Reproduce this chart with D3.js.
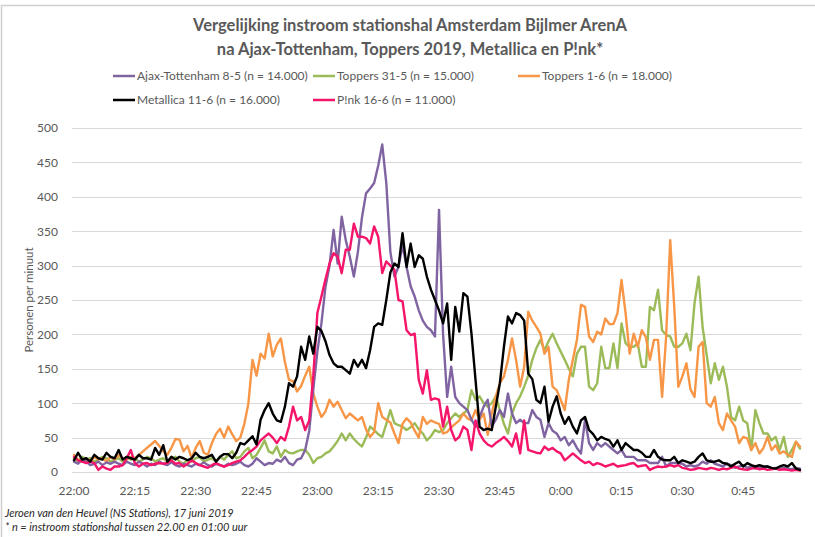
<!DOCTYPE html>
<html><head><meta charset="utf-8">
<script src="https://cdn.jsdelivr.net/npm/d3@7"></script>
<style>
html,body{margin:0;padding:0;background:#fff;}
svg{display:block;font-family:Lato,"Open Sans",sans-serif;}
</style></head>
<body><svg id="chart" width="815" height="537"></svg>
<script>
const titleLines = ["Vergelijking instroom stationshal Amsterdam Bijlmer ArenA", "na Ajax-Tottenham, Toppers 2019, Metallica en P!nk*"];
const seriesNames = ["Ajax-Tottenham 8-5 (n = 14.000)", "Toppers 31-5 (n = 15.000)", "Toppers 1-6 (n = 18.000)", "Metallica 11-6 (n = 16.000)", "P!nk 16-6 (n = 11.000)"];
const seriesColors = ["#8064A2", "#9BBB59", "#F79646", "#000000", "#F5156A"];
const xTickLabels = ["22:00","22:15","22:30","22:45","23:00","23:15","23:30","23:45","0:00","0:15","0:30","0:45"];
const yTicks = [0,50,100,150,200,250,300,350,400,450,500];
const footer = ["Jeroen van den Heuvel (NS Stations), 17 juni 2019", "* n = instroom stationshal tussen 22.00 en 01:00 uur"];

const ajax = [15,12,18,15,10,12,15,10,14,12, 15,12,10,15,12,10,15,12,8,12, 10,15,12,10,14,10,8,12,10,8, 12,10,14,10,8,12,10,8,12,10,
  12,15,10,8,12,20,15,10,13,12, 18,15,22,13,10,18,20,32,60,120, 175,216,269,300,352,303,371,337,313,284, 320,370,405,412,420,445,476,420,320,284,
  298,330,298,270,255,235,220,211,206,197, 381,200,109,153,109,100,95,90,76,66, 80,95,105,66,76,90,80,114,85,71, 76,71,71,90,80,76,51,71,60,56,
  46,51,39,46,35,27,76,42,32,42, 37,42,37,32,27,32,22,22,22,17, 17,17,13,13,13,22,8,13,13,13, 12,8,10,8,10,15,12,17,12,10,
  8,12,10,6,8,10,6,8,5,7, 6,8,5,6,4,6,5,4,6,5];
const toppers315 = [20,15,22,18,20,15,18,22,20,15, 18,20,15,22,18,20,15,18,22,20, 15,18,20,15,18,22,15,12,18,15, 20,22,15,18,20,15,22,18,25,30,
  20,22,30,35,20,25,35,46,30,27, 37,22,32,28,27,30,32,32,25,13, 20,22,27,30,37,45,56,46,56,48, 42,37,50,66,61,55,51,70,90,71,
  68,66,61,65,71,62,56,46,52,61, 58,61,71,78,85,80,85,90,119,105, 110,100,95,100,110,90,70,56,85,100, 110,124,140,163,180,192,177,190,201,187,
  175,163,150,139,172,182,182,124,119,129, 182,151,151,187,151,216,187,182,182,187, 153,153,240,235,265,206,199,197,182,182, 187,201,177,245,284,210,170,129,158,134,
  153,124,80,75,95,75,71,32,90,71, 56,56,46,51,32,51,22,32,44,34];
const toppers16 = [25,18,15,20,15,22,18,20,15,22, 18,25,20,18,22,20,25,30,35,40, 45,38,30,25,35,48,47,30,38,20, 35,45,28,25,42,55,63,50,66,55,
  45,50,70,100,163,140,172,165,201,168, 185,194,160,134,132,117,125,140,153,114, 95,80,88,105,95,102,90,78,85,80, 75,80,62,51,58,100,80,76,72,56,
  42,70,78,72,60,50,80,70,75,72, 70,56,58,65,70,75,85,78,75,90, 76,85,54,85,110,129,139,163,194,163, 124,153,233,220,211,201,172,182,124,119,
  105,90,134,163,192,243,240,197,189,204, 200,223,215,215,231,279,231,172,201,182, 206,196,163,192,192,109,197,337,240,124, 139,158,120,109,182,189,100,95,109,71,
  61,85,75,66,42,51,49,32,42,27, 35,51,32,39,27,30,25,22,44,37];
const metallica = [17,28,18,20,15,25,20,18,28,22, 20,32,18,22,20,18,25,20,20,18, 35,25,39,15,22,18,22,20,17,20, 28,22,20,22,25,15,22,26,26,20,
  28,42,40,46,52,40,76,90,100,85, 75,73,95,129,124,139,182,163,197,172, 211,205,190,170,158,153,153,148,143,163, 153,163,151,177,211,216,214,250,290,303,
  298,347,298,332,298,315,310,284,265,250, 235,216,245,163,240,204,260,255,201,134, 66,61,63,61,95,129,182,226,216,231, 228,220,143,135,105,100,124,73,95,110,
  85,70,80,66,56,75,80,61,55,46, 51,48,46,37,46,32,42,37,32,32, 28,22,22,32,22,18,17,17,22,13, 17,15,13,15,22,27,17,15,15,17,
  13,12,8,12,15,8,13,10,8,10, 8,8,6,5,8,10,8,13,5,3];
const pink = [22,17,15,13,15,13,3,8,5,3, 8,8,10,20,32,13,8,12,13,10, 12,13,12,13,17,12,13,8,12,17, 13,10,8,6,10,13,10,8,10,13,
  15,17,22,28,32,37,46,51,56,50, 42,51,46,66,95,75,80,61,75,140, 231,255,280,303,318,313,289,323,323,361, 342,342,340,332,357,342,289,306,300,294,
  250,248,206,199,201,134,114,148,105,107, 105,66,95,61,46,51,66,61,32,75, 56,46,40,37,42,46,51,45,37,56, 27,75,32,30,28,27,37,32,35,30,
  27,17,22,27,22,17,13,15,10,13, 11,8,10,12,8,9,10,12,13,8, 9,10,3,6,8,7,8,10,8,10, 6,5,3,4,6,5,4,6,5,3,
  5,4,6,8,5,4,3,5,6,4, 5,3,4,5,3,4,3,2,3,2];

const allSeries = [ajax, toppers315, toppers16, metallica, pink];
const minutes = d3.range(ajax.length);

const svg = d3.select("#chart");
const W = 815, H = 537;
const txt = "#595959";
const plot = {left: 72, right: 802, top: 128, bottom: 472};

svg.append("rect").attr("x",0).attr("y",0).attr("width",W).attr("height",H).attr("fill","#fff");
// chart border (top & left visible)
svg.append("rect").attr("x",1.5).attr("y",5.5).attr("width",W+10).attr("height",H+10)
  .attr("fill","none").attr("stroke","#d0d0d0").attr("stroke-width",1.5);

const x = d3.scaleBand().domain(minutes).range([plot.left, plot.right]);
const xc = i => x(i) + x.bandwidth()/2;
const y = d3.scaleLinear().domain([0,500]).range([plot.bottom, plot.top]);

// gridlines
const grid = svg.append("g").attr("class","grid");
grid.selectAll("line").data(yTicks).join("line")
  .attr("x1",plot.left).attr("x2",plot.right)
  .attr("y1",d=>Math.round(y(d))+0.5).attr("y2",d=>Math.round(y(d))+0.5)
  .attr("stroke","#d9d9d9").attr("stroke-width",1);

// y axis labels
const yAxis = d3.axisLeft(y).tickValues(yTicks).tickSize(0).tickPadding(14);
const gy = svg.append("g").attr("transform",`translate(${plot.left},0)`).call(yAxis);
gy.select(".domain").remove();
gy.selectAll("text").attr("fill",txt).style("font-size","12px").style("font-family","Lato");

// x axis labels
const xAxis = d3.axisBottom(x)
  .tickValues(xTickLabels.map((_,k)=>k*15))
  .tickFormat((d)=>xTickLabels[d/15]).tickSize(0).tickPadding(14);
const gx = svg.append("g").attr("transform",`translate(0,${plot.bottom})`).call(xAxis);
gx.select(".domain").remove();
gx.selectAll("text").attr("fill",txt).style("font-size","12px").style("font-family","Lato");

// lines
const line = d3.line().x((d,i)=>xc(i)).y(d=>y(d)).curve(d3.curveLinear);
const drawOrder = [1,2,0,4,3];
drawOrder.forEach(k=>{
  svg.append("path").datum(allSeries[k]).attr("d",line)
    .attr("fill","none").attr("stroke",seriesColors[k]).attr("stroke-width",2.4)
    .attr("stroke-linejoin","round").attr("stroke-linecap","round");
});

// title
svg.append("g").selectAll("text").data(titleLines).join("text")
  .attr("x",410).attr("y",(d,i)=>31+i*24).attr("text-anchor","middle")
  .attr("fill",txt).style("font-size","16.5px").style("font-weight","bold").text(d=>d);

// legend
const legPos = [[113,76],[313,76],[518,76],[113,100],[313,100]];
const leg = svg.append("g");
seriesNames.forEach((n,k)=>{
  const [lx,ly] = legPos[k];
  leg.append("line").attr("x1",lx).attr("x2",lx+22).attr("y1",ly).attr("y2",ly)
    .attr("stroke",seriesColors[k]).attr("stroke-width",2.5);
  leg.append("text").attr("x",lx+24).attr("y",ly+4).attr("fill",txt)
    .style("font-size","12px").text(n);
});

// y axis title
svg.append("text").attr("transform","translate(33,300) rotate(-90)").attr("text-anchor","middle")
  .attr("fill",txt).style("font-size","11.5px").text("Personen per minuut");

// footer
svg.append("g").selectAll("text").data(footer).join("text")
  .attr("x",5).attr("y",(d,i)=>517+i*14).attr("fill","#262626")
  .style("font-size","11px").style("font-style","italic").text(d=>d);
</script>
</body></html>
